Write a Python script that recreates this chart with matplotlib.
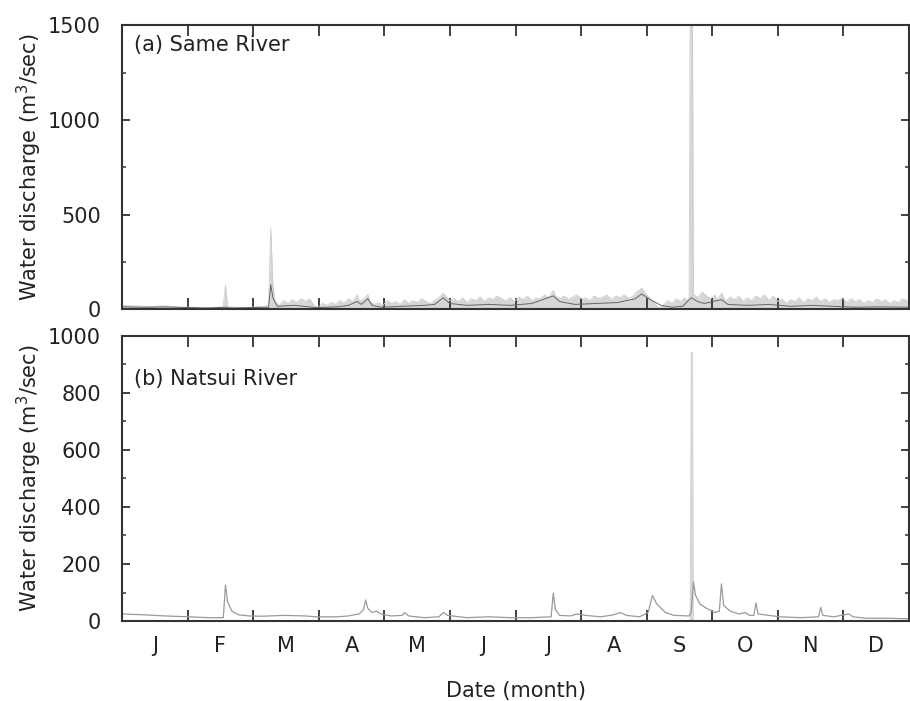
import numpy as np
import matplotlib.pyplot as plt
from matplotlib.ticker import MultipleLocator

plt.rcParams['font.family'] = ['DejaVu Sans']

months = ["J", "F", "M", "A", "M", "J", "J", "A", "S", "O", "N", "D"]

# (a) Same River - range band (light grey) and mean line (dark grey), day of year
same_band_days = [0, 5, 10, 15, 20, 25, 31, 35, 40, 45, 47, 48, 49, 52, 56, 59,
                  62, 66, 68, 69, 70, 71, 73, 75, 77, 79, 81, 83, 85, 87, 89,
                  91, 93, 95, 97, 99, 101, 103, 105, 107, 109, 110, 112, 114, 115, 117, 119,
                  121, 123, 125, 127, 129, 131, 133, 135, 137, 139, 141, 143, 145, 147, 149, 150, 152,
                  154, 156, 158, 160, 162, 164, 166, 168, 170, 172, 174, 176, 178, 180,
                  182, 184, 186, 188, 190, 192, 194, 196, 198, 200, 201, 203, 205, 207, 209, 211, 213,
                  215, 217, 219, 221, 223, 225, 227, 229, 231, 233, 235, 237, 239, 241, 243,
                  245, 247, 249, 251, 253, 255, 257, 259, 261, 262, 263, 263.5, 264.5, 265, 267, 269, 271, 273,
                  275, 276, 278, 280, 282, 284, 286, 288, 290, 292, 294, 296, 298, 300, 302, 304,
                  306, 308, 310, 312, 314, 316, 318, 320, 322, 324, 326, 328, 330, 332, 334,
                  336, 338, 340, 342, 344, 346, 348, 350, 352, 354, 356, 358, 360, 362, 365]
same_band_vals = [20, 18, 15, 14, 18, 12, 10, 10, 8, 10, 12, 127, 15, 10, 8, 10,
                  12, 15, 20, 428, 135, 40, 20, 45, 30, 50, 35, 55, 40, 55, 20,
                  10, 30, 20, 35, 25, 45, 30, 55, 40, 75, 45, 50, 78, 40, 25, 35,
                  20, 45, 30, 40, 25, 50, 30, 45, 35, 55, 40, 30, 45, 60, 85, 70, 45,
                  55, 40, 60, 35, 55, 45, 65, 40, 60, 50, 70, 55, 45, 60,
                  40, 65, 50, 70, 45, 60, 55, 75, 60, 100, 70, 55, 70, 50, 65, 75, 55,
                  60, 45, 70, 55, 65, 75, 50, 70, 60, 75, 55, 70, 95, 110, 80,
                  55, 30, 5, 20, 45, 30, 55, 40, 60, 45, 60, 1600, 1600, 80, 60, 90, 70, 55,
                  75, 45, 85, 40, 65, 50, 70, 40, 60, 45, 70, 55, 75, 45, 70, 40,
                  55, 30, 50, 40, 60, 35, 55, 45, 65, 40, 55, 35, 50, 45, 60,
                  35, 55, 40, 50, 30, 45, 35, 55, 40, 50, 30, 45, 35, 55, 40]

same_mean_days = [0, 10, 20, 31, 40, 48, 50, 59, 68, 69, 70, 72, 80, 90, 100, 105, 109, 111,
                  114, 116, 120, 130, 140, 145, 149, 152, 160, 170, 180, 190, 200, 203, 210,
                  220, 230, 238, 241, 245, 250, 255, 260, 264, 267, 270, 278, 281, 290, 300,
                  310, 320, 330, 340, 350, 365]
same_mean_vals = [12, 10, 12, 8, 6, 10, 6, 8, 10, 130, 60, 15, 20, 8, 12, 20, 40, 25,
                  55, 20, 10, 15, 20, 25, 60, 30, 20, 25, 20, 30, 70, 40, 25,
                  30, 35, 55, 80, 50, 20, 10, 15, 60, 40, 30, 50, 25, 20, 25,
                  15, 20, 15, 10, 12, 10]

# (b) Natsui River
natsui_days = [0, 10, 20, 31, 40, 47, 48, 49, 51, 54, 59, 65, 75, 85, 90, 100, 105, 110,
               112, 113, 114, 116, 118, 120, 125, 130, 131, 133, 140, 147, 149, 151, 160,
               170, 180, 190, 199, 200, 201, 203, 208, 211, 215, 222, 228, 231, 234, 240,
               244, 246, 248, 252, 256, 263, 264, 265, 266, 268, 271, 275, 277, 278, 279,
               282, 286, 289, 291, 293, 294, 295, 300, 305, 315, 323, 324, 325, 330, 337,
               339, 345, 355, 365]
natsui_vals = [25, 22, 18, 15, 12, 12, 126, 67, 35, 22, 18, 17, 20, 18, 15, 15, 18, 25,
               40, 74, 45, 30, 35, 25, 18, 20, 30, 18, 12, 15, 30, 20, 12,
               15, 12, 12, 15, 98, 40, 20, 18, 25, 20, 15, 22, 30, 20, 15,
               30, 90, 60, 30, 20, 18, 35, 137, 90, 60, 45, 30, 35, 130, 55,
               35, 25, 30, 20, 20, 63, 25, 20, 15, 12, 15, 48, 20, 15, 25,
               15, 10, 10, 8]
natsui_peak_days = [263, 263.5, 264.5, 265]
natsui_peak_vals = [20, 945, 945, 137]

fig = plt.figure(figsize=(9.1, 7.01), dpi=100)
ax1 = fig.add_axes([0.134, 0.559, 0.865, 0.405])
ax2 = fig.add_axes([0.134, 0.114, 0.865, 0.407])

band_c = "#d6d6d6"
ax1.fill_between(same_band_days, same_band_vals, color=band_c, lw=0)
ax1.plot(same_band_days, same_band_vals, color="#cccccc", lw=0.6)
ax1.plot(same_mean_days, same_mean_vals, color="#666666", lw=0.7)

ax2.fill_between(natsui_peak_days, natsui_peak_vals, color=band_c, lw=0)
ax2.plot(natsui_days, natsui_vals, color="#9a9a9a", lw=0.9)

month_edges = np.linspace(0, 365, 13)
month_mids = (month_edges[:-1] + month_edges[1:]) / 2

for ax, top, major, minor in [(ax1, 1500, 500, 250), (ax2, 1000, 200, 100)]:
    ax.set_xlim(0, 365)
    ax.set_ylim(0, top)
    ax.yaxis.set_major_locator(MultipleLocator(major))
    ax.yaxis.set_minor_locator(MultipleLocator(minor))
    ax.set_xticks(month_edges)
    ax.set_xticklabels([])
    ax.tick_params(axis="x", which="major", direction="in", length=8, width=1.3,
                   top=True, bottom=True, color="#333333")
    ax.tick_params(axis="y", which="major", direction="in", length=6, width=1.3,
                   left=True, right=True, color="#333333", labelsize=15,
                   labelcolor="#222222", pad=15)
    ax.tick_params(axis="y", which="minor", direction="in", length=3, width=1.1,
                   left=True, right=True, color="#333333")
    for s in ax.spines.values():
        s.set_linewidth(1.5)
        s.set_color("#333333")
    ax.set_ylabel("Water discharge (m$^3$/sec)", fontsize=15, color="#222222", labelpad=3)

ax2.set_xticks(month_mids, minor=True)
ax2.set_xticklabels(months, minor=True)
ax2.tick_params(axis="x", which="minor", length=0, labelsize=15, labelcolor="#222222", pad=11)
ax2.set_xlabel("Date (month)", fontsize=15, color="#222222", labelpad=18)

ax1.text(0.015, 0.93, "(a) Same River", transform=ax1.transAxes, fontsize=15,
         color="#222222", va="center", ha="left")
ax2.text(0.015, 0.85, "(b) Natsui River", transform=ax2.transAxes, fontsize=15,
         color="#222222", va="center", ha="left")

fig.savefig("out.png", dpi=100)
